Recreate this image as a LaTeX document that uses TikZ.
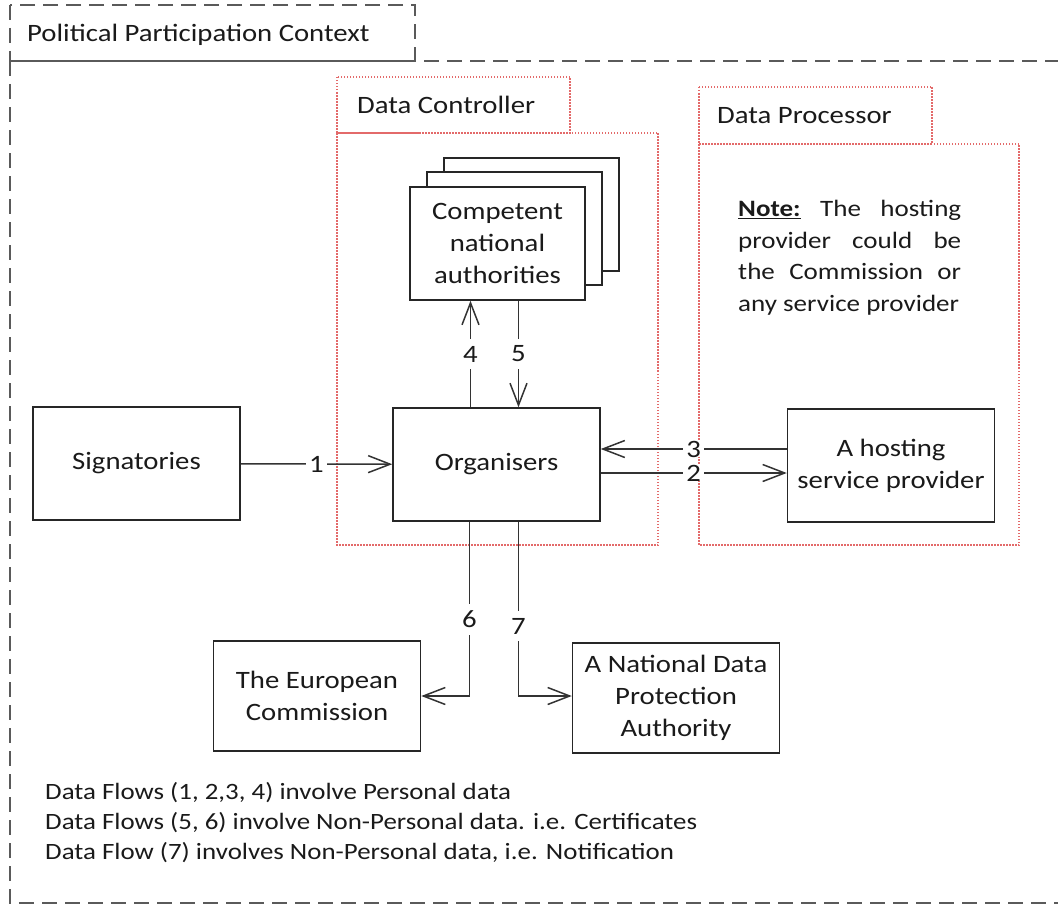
\documentclass[tikz,border=0pt]{standalone}
\usepackage{fontspec}
\setmainfont{Carlito}[FakeStretch=1.15]
\usetikzlibrary{arrows.meta,calc}
\definecolor{txt}{HTML}{1A1A1A}
\definecolor{ctxgray}{HTML}{5A5A5A}
\definecolor{dotred}{HTML}{E36A6A}
\begin{document}
\begin{tikzpicture}[x=1pt,y=-1pt,
  every node/.style={font=\fontsize{25}{32}\selectfont, text=txt},
  box/.style={draw=black!85, line width=1.5pt, fill=white, minimum width=207pt, minimum height=113pt, align=center, inner sep=0pt},
  cnabox/.style={box, minimum width=175pt, minimum height=113pt},
  arr/.style={draw=black!80, line width=1.5pt, -{Straight Barb[length=22pt,width=17pt,line width=1.5pt]}},
  lbl/.style={fill=white, inner sep=3pt, text=txt},
  ctx/.style={draw=ctxgray, line width=2.2pt, dash pattern=on 15pt off 8pt},
  dotbox/.style={draw=dotred, line width=1.3pt, dash pattern=on 1.5pt off 1.5pt},
  plain/.style={inner sep=0pt, anchor=west}
]
\clip (0,0) rectangle (1058,907);
% context frame
\draw[ctx] (10,5) rectangle (415,61);
\draw[ctx] (10,61) -- (10,903) -- (1075,903);
\draw[ctx] (10,61) -- (1075,61);
\node[plain] (ctxlbl) at (27,35) {Political Participation Context};
% data controller
\draw[dotbox] (337,77) rectangle (570,133);
\draw[dotbox] (337,133) rectangle (658,545);
\node[plain] (dclbl) at (357,105) {Data Controller};
% data processor
\draw[dotbox] (699,87) rectangle (932,144);
\draw[dotbox] (699,144) rectangle (1019,545);
\node[plain] (dplbl) at (717,116) {Data Processor};
\node[anchor=north west, inner sep=0pt, text width=223pt, align=justify, font=\fontsize{23.5}{31.5}\selectfont] (note) at (738,200)
  {\underline{\textbf{Note:}} The hosting\linebreak provider could be\linebreak the Commission or\linebreak any service provider};
% competent national authorities stack
\node[cnabox] (cna3) at (531.5,214.5) {};
\node[cnabox] (cna2) at (514.5,228.5) {};
\node[cnabox] (cna) at (497.5,243.5) {Competent\\national\\authorities};
% main boxes
\node[box] (sig) at (136.5,463.5) {Signatories};
\node[box] (org) at (496.5,464.5) {Organisers};
\node[box] (host) at (891,465.5) {A hosting\\service provider};
\node[box, minimum height=110pt] (ec) at (317,696) {The European\\Commission};
\node[box, minimum height=110pt] (ndpa) at (676,698) {A National Data\\Protection\\Authority};
% connectors
\draw[arr] (sig) -- (org) node[lbl, pos=0.5] {1};
\draw[arr] ([yshift=15.5pt]org.east -| host.west) -- ([yshift=15.5pt]org.east) node[lbl, pos=0.5, inner ysep=0pt] {3};
\draw[arr] ([yshift=-8.5pt]org.east) -- ([yshift=-8.5pt]org.east -| host.west) node[lbl, pos=0.5, inner ysep=0pt] {2};
\draw[arr] ([xshift=-26pt]org.north) -- ([xshift=-26pt]org.north |- cna.south) node[lbl, pos=0.5, inner ysep=7pt] {4};
\draw[arr] ([xshift=22pt]org.north |- cna.south) -- ([xshift=22pt]org.north) node[lbl, pos=0.5, inner ysep=7pt] {5};
\draw[arr] ([xshift=-27pt]org.south) |- (ec.east) node[lbl, pos=0.28, inner ysep=7pt] {6};
\draw[arr] ([xshift=22pt]org.south) |- (ec.east -| ndpa.west) node[lbl, pos=0.30, inner ysep=7pt] {7};
% legend
\node[anchor=north west, inner sep=0pt, align=left, font=\fontsize{23.4}{30}\selectfont] (legend) at (45,782)
  {Data Flows (1, 2,3, 4) involve Personal data\\
   Data Flows (5, 6) involve Non-Personal data. i.e. Certificates\\
   Data Flow (7) involves Non-Personal data, i.e. Notification};
\end{tikzpicture}
\end{document}
